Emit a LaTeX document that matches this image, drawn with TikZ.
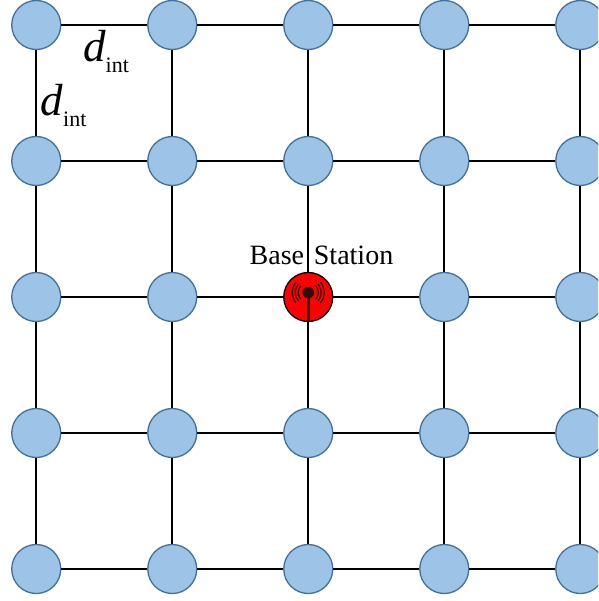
\documentclass[tikz,border=0pt]{standalone}
\usepackage{fontspec}
\setmainfont{Liberation Serif}
\newfontfamily\bsfont[WordSpace=1.4]{Liberation Serif}
\definecolor{nodefill}{HTML}{9DC3E6}
\definecolor{nodeline}{HTML}{41719C}
\definecolor{antenna}{HTML}{2B0D0D}
\tikzset{
  gridnode/.style={circle,draw=nodeline,fill=nodefill,line width=1.3pt,minimum size=49pt,inner sep=0pt},
  basenode/.style={circle,draw=black,fill=red,line width=1.3pt,minimum size=49pt,inner sep=0pt},
  link/.style={draw=black,line width=1.6pt},
  antennaline/.style={draw=antenna,line width=1.2pt},
  lbl/.style={inner sep=0pt,anchor=base west}
}
\newcommand{\dint}{{\fontsize{45}{45}\selectfont\itshape d}{\fontsize{22}{22}\selectfont\raisebox{-11pt}{int}}}
\begin{document}
\begin{tikzpicture}[x=1pt,y=-1pt]
\useasboundingbox (0,0) rectangle (598,601);
\begin{scope}
\clip (0,0) rectangle (598,601);
% nodes
\foreach \i/\x in {0/36.25,1/172.25,2/308.25,3/444.25,4/580.25}
  \foreach \j/\y in {0/25,1/161,2/297,3/433,4/569}
    {\ifnum\i\j=22
       \node[basenode] (n\i\j) at (\x,\y) {};
     \else
       \node[gridnode] (n\i\j) at (\x,\y) {};
     \fi}
% links
\foreach \j in {0,...,4}
  \foreach \a/\b in {0/1,1/2,2/3,3/4}
    \draw[link] (n\a\j) -- (n\b\j);
\foreach \i in {0,...,4}
  \foreach \a/\b in {0/1,1/2,2/3,3/4}
    \draw[link] (n\i\a) -- (n\i\b);
\end{scope}
% antenna
\fill[antenna] (308.25,292.5) circle (5.8);
\draw[antenna,line width=2.6pt] (308.25,292.5) -- (308.25,322);
\foreach \r in {10,13,16}{
  \draw[antennaline] (308.25,292.5) ++(-40:\r) arc (-40:40:\r);
  \draw[antennaline] (308.25,292.5) ++(140:\r) arc (140:220:\r);
}
% labels
\node[lbl,font=\fontsize{28}{28}\selectfont\bsfont] (bs) at (249.5,264) {Base Station};
\node[lbl] (d1) at (83,62) {\dint};
\node[lbl] (d2) at (40.5,116) {\dint};
\end{tikzpicture}
\end{document}
